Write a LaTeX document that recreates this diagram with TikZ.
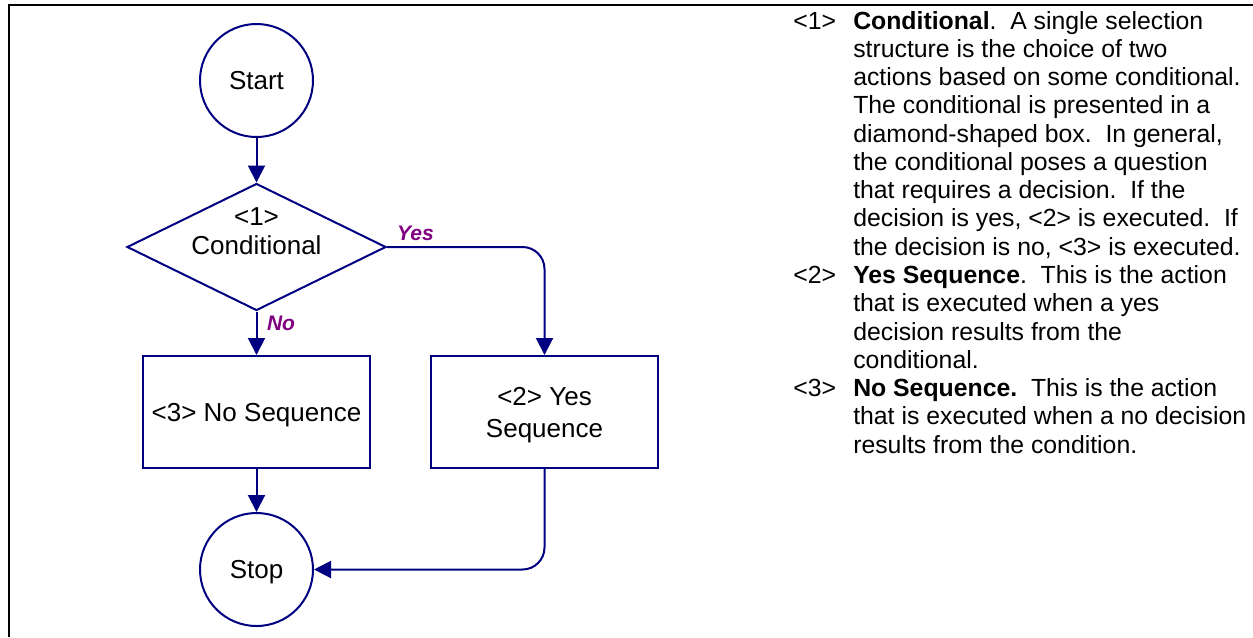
\documentclass[tikz,border=0pt]{standalone}
\usepackage{fontspec}
\setmainfont{Liberation Sans}
\usetikzlibrary{shapes.geometric,arrows.meta}
\definecolor{flowblue}{RGB}{0,0,128}
\definecolor{labpurple}{RGB}{128,0,128}
\begin{document}
\begin{tikzpicture}[x=0.75pt,y=-0.75pt,
  shapeline/.style={draw=flowblue,line width=1.5pt},
  arr/.style={draw=flowblue,line width=1.5pt,-{Triangle[width=12.75pt,length=12.75pt]}},
  flowfont/.style={font=\fontsize{19.5pt}{24pt}\selectfont},
  term/.style={circle,shapeline,minimum size=84.75pt,inner sep=0pt,flowfont},
  procbox/.style={rectangle,shapeline,minimum width=170.25pt,minimum height=84pt,inner sep=0pt,align=center,flowfont,text depth=0pt},
  decision/.style={diamond,shapeline,minimum width=194.25pt,minimum height=95.25pt,inner sep=0pt},
  branchlabel/.style={text=labpurple,inner sep=0pt,font=\fontsize{15.75pt}{18pt}\selectfont\bfseries\itshape},
  rtext/.style={anchor=base west,inner sep=0pt,font=\fontsize{18.6pt}{21.2pt}\selectfont}
]
\useasboundingbox (0,0) rectangle (1253,637);
% frame
\draw[line width=1.65pt,black] (9,637) -- (9,5) -- (1253,5);

% flowchart
\node[term] (start) at (256.5,80.5) {Start};
\node[decision] (cond) at (256.5,247) {};
\node[align=center,inner sep=0pt,font=\fontsize{19.5pt}{22pt}\selectfont] (condtext) at (256.5,231) {<1>\\Conditional};
\node[procbox] (nobox) at (256.5,412) {<3> No Sequence};
\node[procbox] (yesbox) at (544.5,412) {<2> Yes\\Sequence};
\node[term,text depth=0pt] (stop) at (256.5,569.5) {Stop};

\draw[arr] (start.south) -- (cond.north);
\draw[arr] (cond.south) -- (nobox.north);
\draw[arr,rounded corners=16.5pt] (cond.east) -- (yesbox.north |- cond.east) -- (yesbox.north);
\draw[arr] (nobox.south) -- (stop.north);
\draw[arr,rounded corners=16.5pt] (yesbox.south) -- (yesbox.south |- stop.east) -- (stop.east);

\node[branchlabel] (yeslab) at (415.5,233) {Yes};
\node[branchlabel] (nolab) at (281,323.5) {No};

% explanatory text
\node[rtext] (n1) at (793,29) {<1>};
\node[rtext] (t1) at (853,29) {\vtop{%
\hbox{\textbf{Conditional}.\ \ A single selection}
\hbox{structure is the choice of two}
\hbox{actions based on some conditional.}
\hbox{The conditional is presented in a}
\hbox{diamond-shaped box.\ \ In general,}
\hbox{the conditional poses a question}
\hbox{that requires a decision.\ \ If the}
\hbox{decision is yes, <2> is executed.\ \ If}
\hbox{the decision is no, <3> is executed.}}};
\node[rtext] (n2) at (793,283.5) {<2>};
\node[rtext] (t2) at (853,283.5) {\vtop{%
\hbox{\textbf{Yes Sequence}.\ \ This is the action}
\hbox{that is executed when a yes}
\hbox{decision results from the}
\hbox{conditional.}}};
\node[rtext] (n3) at (793,396.5) {<3>};
\node[rtext] (t3) at (853,396.5) {\vtop{%
\hbox{\textbf{No Sequence.}\ \ This is the action}
\hbox{that is executed when a no decision}
\hbox{results from the condition.}}};
\end{tikzpicture}
\end{document}
